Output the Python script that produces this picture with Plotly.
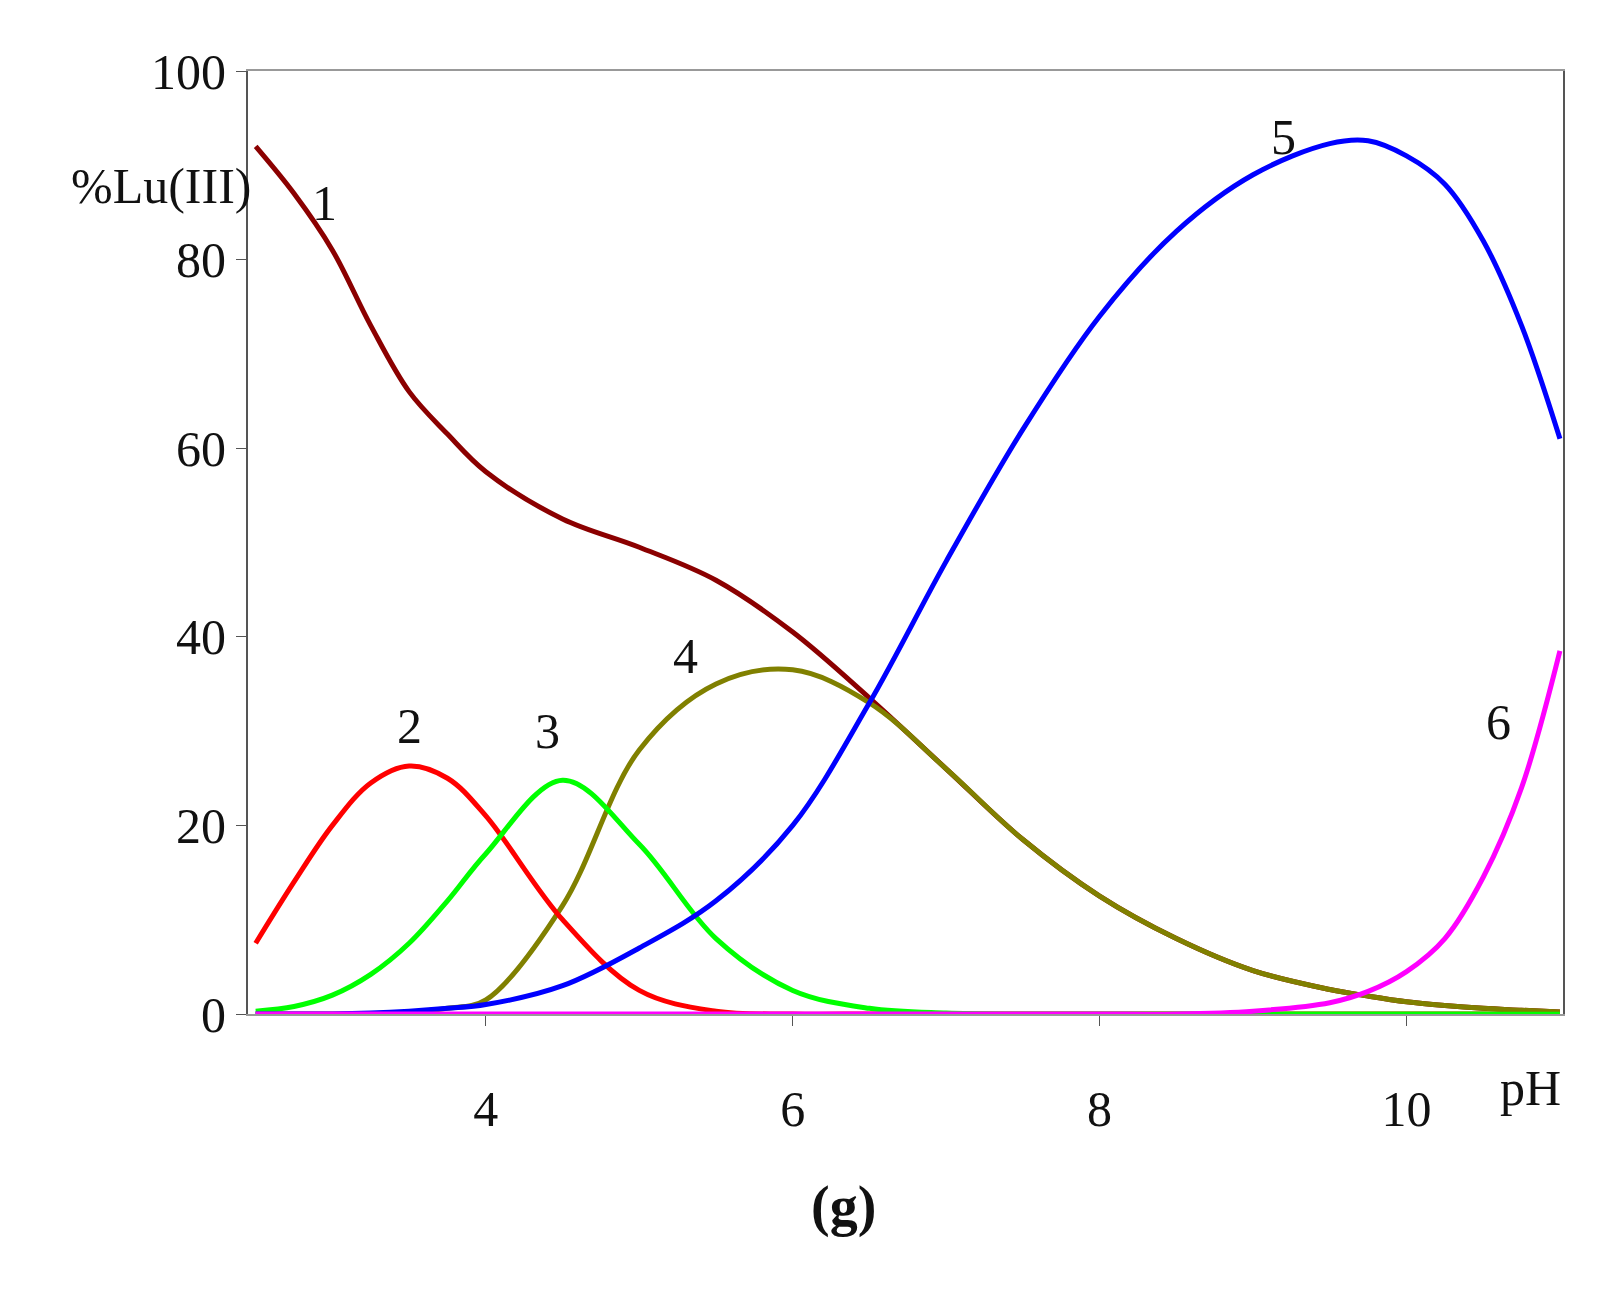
import plotly.graph_objects as go

ph = [2.5,2.75,3,3.25,3.5,3.75,4,4.5,5,5.5,6,6.5,7,7.5,8,8.5,9,9.5,9.75,10,10.25,10.5,10.75,11]
s1 = [92,87,81,73,66,61.5,57.5,52.5,49.5,46,40.5,33.5,26,18.5,12.5,8,4.6,2.6,1.9,1.3,0.9,0.6,0.4,0.2]
s2 = [7.5,14,20,24.5,26.3,25,21,10,2.5,0.3,0,0,0,0,0,0,0,0,0,0,0,0,0,0]
s3 = [0.3,0.8,2,4.2,7.5,12,17,24.8,18,8,2.5,0.6,0.1,0,0,0,0,0,0,0,0,0,0,0]
s4 = [0,0,0,0,0.2,0.6,1.5,11.5,28,35,36.5,33,26,18.5,12.5,8,4.6,2.6,1.9,1.3,0.9,0.6,0.4,0.2]
s5 = [0,0,0,0.1,0.3,0.6,1,3,7,12,20,33,48,62,74,83,89,92.3,92.6,91,88,82,73,61]
s6 = [0,0,0,0,0,0,0,0,0,0,0,0,0,0,0,0,0.3,1.2,2.4,4.5,8,14.5,24,38.5]
labels = ["1","2","3","4","5","6"]
label_pos = [(2.95,86),(3.5,30.5),(4.4,30),(5.3,38),(9.2,93),(10.6,31)]

fig = go.Figure()
for s,c in zip([s1,s4,s2,s3,s5,s6],["#8b0000","#808000","#ff0000","#00ff00","#0000ff","#ff00ff"]):
    fig.add_trace(go.Scatter(x=ph,y=s,mode="lines",line=dict(color=c,width=5,shape="spline",smoothing=1.0),showlegend=False))
font = dict(family="Liberation Serif, DejaVu Serif, serif", size=50, color="#111")
for t,(x,y) in zip(labels,label_pos):
    fig.add_annotation(x=x,y=y,text=t,showarrow=False,font=font)
fig.add_annotation(x=0,y=0.91,xref="paper",yref="paper",text="%Lu(III)",showarrow=False,xanchor="right",xshift=5,font=font)
fig.add_annotation(x=1,y=-0.11,xref="paper",yref="paper",text="pH",showarrow=False,xanchor="right",font=font)
fig.add_annotation(x=0.453,y=-0.24,xref="paper",yref="paper",text="<b>(g)</b>",showarrow=False,font=dict(family="Liberation Serif, serif",size=56,color="#111"))
fig.update_layout(width=1608,height=1308,margin=dict(l=240,r=53,t=63,b=302),
    plot_bgcolor="white",paper_bgcolor="white")
fig.update_xaxes(range=[2.45,11.02],tickvals=[4,6,8,10],ticks="outside",ticklen=10,tickcolor="#555",
    showgrid=False,zeroline=False,showline=True,linecolor="#999",linewidth=2,mirror=True,
    tickfont=font,ticklabelstandoff=40)
fig.update_yaxes(range=[0,100],tickvals=[0,20,40,60,80,100],ticks="outside",ticklen=10,tickcolor="#555",
    showgrid=False,zeroline=False,showline=True,linecolor="#555",linewidth=2,mirror=True,tickfont=font)
fig.write_html("out.html")
